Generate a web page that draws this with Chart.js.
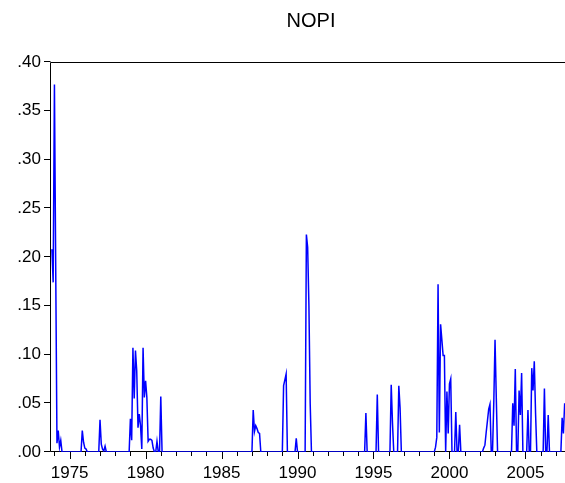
<!DOCTYPE html>
<html>
<head>
<meta charset="utf-8">
<script src="https://cdn.jsdelivr.net/npm/chart.js@4.4.1/dist/chart.umd.min.js"></script>
<style>
  html, body { margin: 0; padding: 0; background: #fff; overflow: hidden; }
  /* the plot frame runs a few pixels past the right edge, as in the reference */
  #wrap { width: 565px; height: 483px; overflow: hidden; }
  #nopiChart { width: 582px; height: 483px; }
</style>
</head>
<body>
<div id="wrap"><canvas id="nopiChart" width="582" height="483"></canvas></div>
<script>
// monthly NOPI, 1973-11 .. 2007-08; months not listed are zero
const firstMonth = '1973-11';
const lastMonth = '2007-08';

const spikeMonths = [
  '1973-11', '1973-12', '1974-01', '1974-02', '1974-03', '1974-04', '1974-05', '1974-06',
  '1975-11', '1975-12', '1976-01', '1976-02',
  '1977-01', '1977-02', '1977-03', '1977-04', '1977-05',
  '1979-01', '1979-02', '1979-03', '1979-04', '1979-05', '1979-06', '1979-07', '1979-08',
  '1979-09', '1979-10', '1979-11', '1979-12',
  '1980-01', '1980-02', '1980-03', '1980-04', '1980-05', '1980-06', '1980-07', '1980-10',
  '1981-01',
  '1987-02', '1987-03', '1987-04', '1987-05', '1987-06', '1987-07',
  '1989-02', '1989-03', '1989-04', '1989-12',
  '1990-08', '1990-09', '1990-10', '1990-11',
  '1994-07', '1995-04', '1996-03', '1996-04', '1996-09', '1996-10',
  '1999-02', '1999-03', '1999-04', '1999-05', '1999-06', '1999-07', '1999-08', '1999-09',
  '1999-11', '1999-12', '2000-01', '2000-02', '2000-06', '2000-09',
  '2002-04', '2002-05', '2002-06', '2002-07', '2002-08', '2002-09', '2002-12',
  '2003-01', '2003-02',
  '2004-03', '2004-04', '2004-05', '2004-08', '2004-09', '2004-10',
  '2005-03', '2005-06', '2005-07', '2005-08', '2005-09',
  '2006-04', '2006-07',
  '2007-06', '2007-07', '2007-08'
];
const spikeValues = [
  0.208, 0.174, 0.377, 0.190, 0.009, 0.022, 0.005, 0.012,
  0.022, 0.010, 0.004, 0.003,
  0.033, 0.008, 0.003, 0.001, 0.006,
  0.034, 0.012, 0.107, 0.055, 0.104, 0.083, 0.025, 0.039,
  0.027, 0.003, 0.107, 0.056,
  0.073, 0.056, 0.011, 0.013, 0.013, 0.012, 0.004, 0.011,
  0.057,
  0.043, 0.021, 0.027, 0.024, 0.020, 0.019,
  0.068, 0.074, 0.080, 0.014,
  0.223, 0.210, 0.150, 0.050,
  0.040, 0.059, 0.069, 0.030, 0.068, 0.045,
  0.005, 0.015, 0.172, 0.020, 0.131, 0.115, 0.099, 0.099,
  0.062, 0.019, 0.070, 0.075, 0.041, 0.028,
  0.004, 0.007, 0.020, 0.032, 0.044, 0.049, 0.050,
  0.115, 0.055,
  0.050, 0.027, 0.085, 0.063, 0.038, 0.081,
  0.043, 0.086, 0.063, 0.093, 0.040,
  0.065, 0.038,
  0.035, 0.019, 0.050
];

const labelYears = [1975, 1980, 1985, 1990, 1995, 2000, 2005];

// build the full monthly series (x in decimal years)
const points = [];
let [yr, mo] = firstMonth.split('-').map(Number);
const [endYr, endMo] = lastMonth.split('-').map(Number);
while (yr < endYr || (yr === endYr && mo <= endMo)) {
  const key = `${yr}-${String(mo).padStart(2, '0')}`;
  const i = spikeMonths.indexOf(key);
  points.push({ x: yr + (mo - 1) / 12, y: i >= 0 ? spikeValues[i] : 0 });
  mo++;
  if (mo > 12) { mo = 1; yr++; }
}

const font = { family: "'Liberation Sans', Arial, sans-serif", size: 17 };

// EViews style frame and outward tick marks (long ones every 5 years)
const axisMarks = {
  id: 'axisMarks',
  beforeDatasetsDraw(chart) {
    const { ctx, chartArea: a, scales: { x, y } } = chart;
    ctx.save();
    ctx.strokeStyle = '#000';
    ctx.lineWidth = 1;
    ctx.beginPath();
    ctx.rect(a.left - 0.5, a.top + 0.5, a.right - a.left + 1, a.bottom - a.top - 1);
    x.ticks.forEach(t => {
      const px = Math.round(x.getPixelForValue(t.value)) + 0.5;
      const len = Math.round(t.value) % 5 === 0 ? 7 : 4;
      ctx.moveTo(px, a.bottom - 0.5);
      ctx.lineTo(px, a.bottom + len);
    });
    y.ticks.forEach(t => {
      const py = Math.round(y.getPixelForValue(t.value)) - 0.5;
      ctx.moveTo(a.left - 7, py);
      ctx.lineTo(a.left - 0.5, py);
    });
    ctx.stroke();
    ctx.restore();
  }
};

new Chart(document.getElementById('nopiChart'), {
  type: 'line',
  data: {
    datasets: [{
      data: points,
      borderColor: '#0000ff',
      borderWidth: 1.5,
      pointRadius: 0,
      tension: 0
    }]
  },
  options: {
    responsive: false,
    animation: false,
    devicePixelRatio: 1,
    layout: { padding: { left: 0, right: 4, top: 0, bottom: 0 } },
    plugins: {
      legend: { display: false },
      tooltip: { enabled: false },
      title: {
        display: true,
        text: 'NOPI',
        fullSize: false,
        color: '#000',
        font: { family: font.family, size: 20, weight: 'normal' },
        padding: { top: 9, bottom: 29 }
      }
    },
    scales: {
      x: {
        type: 'linear',
        min: 1973.774,
        max: 2008,
        grid: { display: false, drawTicks: false },
        border: { display: false },
        ticks: {
          stepSize: 1,
          includeBounds: false,
          autoSkip: false,
          maxRotation: 0,
          padding: 11,
          color: '#000',
          font: font,
          callback: v => labelYears.includes(Math.round(v)) ? String(Math.round(v)) : ''
        },
        afterFit: s => { s.height = 31; }
      },
      y: {
        min: 0,
        max: 0.4,
        grid: { display: false, drawTicks: false },
        border: { display: false },
        ticks: {
          stepSize: 0.05,
          padding: 10,
          color: '#000',
          font: font,
          callback: v => v.toFixed(2).replace(/^0/, '')
        },
        afterFit: s => { s.width = 51; }
      }
    }
  },
  plugins: [axisMarks]
});
</script>
</body>
</html>
